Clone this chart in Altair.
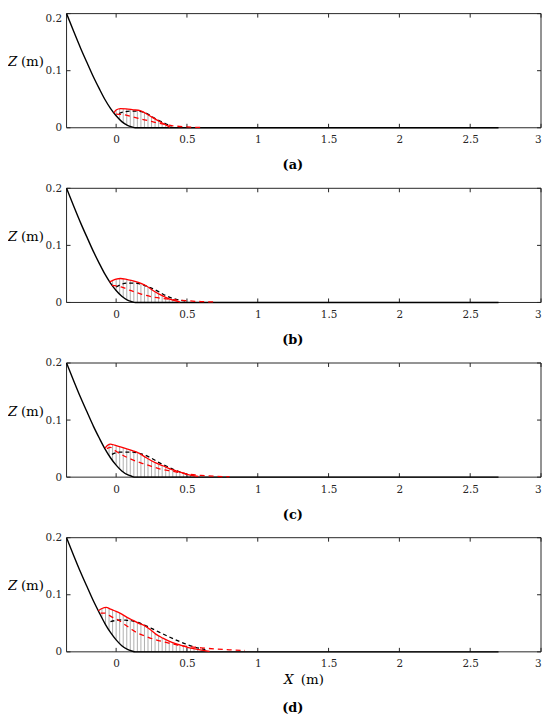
import altair as alt
import numpy as np
import pandas as pd

# ---------------- data ----------------
bed_x = [-0.35, -0.30, -0.25, -0.20, -0.16, -0.12, -0.08, -0.04, 0.0, 0.04, 0.08, 0.11, 0.135, 2.7]
bed_z = [0.200, 0.169, 0.139, 0.111, 0.089, 0.069, 0.050, 0.034, 0.021, 0.0108, 0.0042, 0.0015, 0.0, 0.0]

# panel (a)
a_red_x = [-0.015, 0.0, 0.03, 0.07, 0.12, 0.17, 0.21, 0.25, 0.30, 0.35, 0.38]
a_red_z = [0.026, 0.031, 0.0335, 0.033, 0.0315, 0.030, 0.025, 0.019, 0.012, 0.005, 0.001]
a_blk_x = [0.02, 0.06, 0.10, 0.15, 0.20, 0.25, 0.30, 0.35, 0.39]
a_blk_z = [0.025, 0.028, 0.029, 0.029, 0.027, 0.020, 0.013, 0.007, 0.002]
a_rdd_x = [0.0, 0.05, 0.10, 0.15, 0.20, 0.25, 0.30, 0.35, 0.40, 0.50, 0.60]
a_rdd_z = [0.024, 0.023, 0.020, 0.017, 0.014, 0.011, 0.008, 0.0055, 0.0035, 0.0015, 0.0005]

# panel (b)
b_red_x = [-0.045, -0.02, 0.0, 0.03, 0.08, 0.12, 0.18, 0.22, 0.26, 0.30, 0.35, 0.40, 0.45]
b_red_z = [0.036, 0.039, 0.041, 0.042, 0.040, 0.038, 0.033, 0.028, 0.021, 0.015, 0.009, 0.004, 0.001]
b_blk_x = [0.0, 0.04, 0.08, 0.12, 0.16, 0.20, 0.25, 0.30, 0.35, 0.40, 0.45, 0.50]
b_blk_z = [0.027, 0.032, 0.034, 0.034, 0.033, 0.030, 0.025, 0.019, 0.012, 0.007, 0.004, 0.002]
b_rdd_x = [-0.03, 0.0, 0.05, 0.10, 0.15, 0.20, 0.25, 0.30, 0.40, 0.50, 0.60, 0.70]
b_rdd_z = [0.030, 0.029, 0.026, 0.021, 0.017, 0.013, 0.010, 0.008, 0.005, 0.003, 0.0015, 0.0008]

# panel (c)
c_red_x = [-0.078, -0.06, -0.04, -0.01, 0.03, 0.07, 0.12, 0.16, 0.20, 0.24, 0.28, 0.33, 0.38, 0.43, 0.50, 0.58]
c_red_z = [0.051, 0.056, 0.058, 0.056, 0.053, 0.050, 0.046, 0.042, 0.036, 0.030, 0.025, 0.020, 0.0145, 0.0105, 0.005, 0.0015]
c_blk_x = [-0.03, 0.0, 0.03, 0.08, 0.12, 0.16, 0.20, 0.25, 0.30, 0.35, 0.40, 0.45, 0.50]
c_blk_z = [0.040, 0.043, 0.044, 0.044, 0.044, 0.042, 0.039, 0.033, 0.026, 0.020, 0.014, 0.009, 0.005]
c_rdd_x = [-0.065, -0.04, -0.01, 0.02, 0.05, 0.10, 0.15, 0.20, 0.25, 0.30, 0.37, 0.45, 0.52, 0.60, 0.70, 0.80]
c_rdd_z = [0.050, 0.052, 0.047, 0.042, 0.038, 0.032, 0.027, 0.023, 0.019, 0.015, 0.0115, 0.008, 0.005, 0.003, 0.0015, 0.0008]

# panel (d)
d_red_x = [-0.125, -0.10, -0.07, -0.04, 0.0, 0.04, 0.08, 0.12, 0.16, 0.20, 0.24, 0.28, 0.33, 0.39, 0.45, 0.51, 0.58, 0.66]
d_red_z = [0.072, 0.076, 0.078, 0.075, 0.071, 0.066, 0.060, 0.055, 0.050, 0.046, 0.039, 0.031, 0.024, 0.017, 0.012, 0.0075, 0.004, 0.001]
d_blk_x = [-0.04, 0.0, 0.04, 0.08, 0.12, 0.16, 0.20, 0.25, 0.30, 0.35, 0.42, 0.50, 0.56, 0.63]
d_blk_z = [0.053, 0.055, 0.056, 0.055, 0.054, 0.051, 0.047, 0.041, 0.035, 0.029, 0.021, 0.013, 0.008, 0.004]
d_rdd_x = [-0.11, -0.08, -0.05, -0.02, 0.02, 0.06, 0.10, 0.15, 0.20, 0.28, 0.36, 0.44, 0.52, 0.60, 0.70, 0.80, 0.91]
d_rdd_z = [0.068, 0.068, 0.064, 0.060, 0.055, 0.048, 0.041, 0.033, 0.028, 0.021, 0.016, 0.0115, 0.009, 0.007, 0.005, 0.0035, 0.0025]

x_ticks = [0, 0.5, 1, 1.5, 2, 2.5, 3]
z_ticks = [0, 0.1, 0.2]
captions = ["(a)", "(b)", "(c)", "(d)"]

# ---------------- styling ----------------
W, H = 478, 115
FONT = "DejaVu Serif, serif"
FRAME = "#262626"
HATCH_STEP = 0.025

xscale = alt.Scale(domain=[-0.35, 3], nice=False, zero=False)
yscale = alt.Scale(domain=[0, 0.2], nice=False, zero=False)


def make_panel(rx, rz, kx, kz, dx, dz, caption, first, last):
    yaxis_kw = dict(values=z_ticks, format="~g", ticks=False, domain=False, grid=False,
                    labelPadding=5, labelFont=FONT, labelFontSize=10.5, labelColor=FRAME,
                    title=None)
    if first:
        yaxis_kw["labelBaseline"] = {"condition": {"test": "datum.value >= 0.2", "value": "top"},
                                     "value": "middle"}
    xaxis = alt.Axis(values=x_ticks, format="~g", ticks=False, domain=False, grid=False,
                     labelPadding=7, labelFont=FONT, labelFontSize=10.5, labelColor=FRAME,
                     title=None)
    yaxis = alt.Axis(**yaxis_kw)
    X = alt.X("x:Q", scale=xscale, axis=xaxis)
    Y = alt.Y("z:Q", scale=yscale, axis=yaxis)

    bed = pd.DataFrame({"x": bed_x, "z": bed_z})
    red = pd.DataFrame({"x": rx, "z": rz})
    blk = pd.DataFrame({"x": kx, "z": kz})
    rdd = pd.DataFrame({"x": dx, "z": dz})
    start = np.ceil((rx[0] + 0.008) / HATCH_STEP) * HATCH_STEP
    hatch = pd.DataFrame({"x": np.arange(start, rx[-1] - 0.01, HATCH_STEP)})
    xt = pd.DataFrame({"x": x_ticks})
    zt = pd.DataFrame({"z": z_ticks})
    one = pd.DataFrame({"k": [0]})

    layers = [
        alt.Chart(hatch).mark_rule(color="#9a9a9a", strokeWidth=0.8).encode(x=X),
        alt.Chart(bed).mark_area(color="white", interpolate="monotone").encode(
            x=X, y=Y, y2=alt.datum(0)),
        alt.Chart(red).mark_area(color="white", interpolate="monotone").encode(
            x=X, y=Y, y2=alt.datum(0.2)),
        # frame
        alt.Chart(one).mark_rule(color=FRAME, strokeWidth=1).encode(
            x=alt.value(0), x2=alt.value(W), y=alt.value(0)),
        alt.Chart(one).mark_rule(color=FRAME, strokeWidth=1).encode(
            x=alt.value(0), x2=alt.value(W), y=alt.value(H)),
        alt.Chart(one).mark_rule(color=FRAME, strokeWidth=1).encode(
            x=alt.value(0), y=alt.value(0), y2=alt.value(H)),
        alt.Chart(one).mark_rule(color=FRAME, strokeWidth=1).encode(
            x=alt.value(W), y=alt.value(0), y2=alt.value(H)),
        # inward ticks
        alt.Chart(xt).mark_rule(color=FRAME, strokeWidth=1).encode(
            x=X, y=alt.value(H), y2=alt.value(H - 4)),
        alt.Chart(xt).mark_rule(color=FRAME, strokeWidth=1).encode(
            x=X, y=alt.value(0), y2=alt.value(4)),
        alt.Chart(zt).mark_rule(color=FRAME, strokeWidth=1).encode(
            y=Y, x=alt.value(0), x2=alt.value(4)),
        alt.Chart(zt).mark_rule(color=FRAME, strokeWidth=1).encode(
            y=Y, x=alt.value(W - 4), x2=alt.value(W)),
        # curves
        alt.Chart(bed).mark_line(color="black", strokeWidth=1.4, interpolate="monotone").encode(x=X, y=Y),
        alt.Chart(blk).mark_line(color="black", strokeWidth=1.3, strokeDash=[4, 3],
                                 interpolate="monotone").encode(x=X, y=Y),
        alt.Chart(rdd).mark_line(color="red", strokeWidth=1.3, strokeDash=[5, 4],
                                 interpolate="monotone").encode(x=X, y=Y),
        alt.Chart(red).mark_line(color="red", strokeWidth=1.3, interpolate="monotone").encode(x=X, y=Y),
        # texts
        alt.Chart(one).mark_text(text="Z", font=FONT, fontStyle="italic", fontSize=13.5,
                                 align="left", baseline="middle", color="black").encode(
            x=alt.value(-59), y=alt.value(49)),
        alt.Chart(one).mark_text(text="(m)", font=FONT, fontSize=13.5,
                                 align="left", baseline="middle", color="black").encode(
            x=alt.value(-46), y=alt.value(49)),
    ]
    if last:
        layers += [
            alt.Chart(one).mark_text(text="X", font=FONT, fontStyle="italic", fontSize=13.5,
                                     align="left", baseline="middle", color="black").encode(
                x=alt.value(219), y=alt.value(143)),
            alt.Chart(one).mark_text(text="(m)", font=FONT, fontSize=13.5,
                                     align="left", baseline="middle", color="black").encode(
                x=alt.value(236), y=alt.value(143)),
        ]
        cap_y = 172
    else:
        cap_y = 153
    layers.append(
        alt.Chart(one).mark_text(text=caption, font=FONT, fontWeight="bold", fontSize=13,
                                 align="center", baseline="middle", color="black").encode(
            x=alt.value(228), y=alt.value(cap_y)))
    return alt.layer(*layers).properties(width=W, height=H)


panels = [
    make_panel(a_red_x, a_red_z, a_blk_x, a_blk_z, a_rdd_x, a_rdd_z, captions[0], True, False),
    make_panel(b_red_x, b_red_z, b_blk_x, b_blk_z, b_rdd_x, b_rdd_z, captions[1], False, False),
    make_panel(c_red_x, c_red_z, c_blk_x, c_blk_z, c_rdd_x, c_rdd_z, captions[2], False, False),
    make_panel(d_red_x, d_red_z, d_blk_x, d_blk_z, d_rdd_x, d_rdd_z, captions[3], False, True),
]

chart = alt.vconcat(*panels, spacing=61, bounds="flush").properties(
    padding={"left": 0, "top": 0, "right": 0, "bottom": 0}
).configure_view(strokeWidth=0)

chart.save("out.html", embed_options={"renderer": "svg", "actions": False})
